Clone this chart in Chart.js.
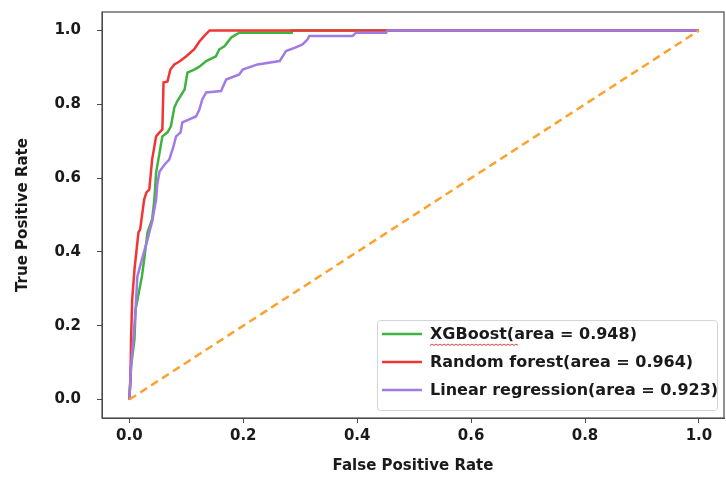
<!DOCTYPE html>
<html lang="en">
  <head>
    <meta charset="UTF-8" />
    <title>ROC curves</title>
    <style>
      body { margin: 0; background: #fff; }
      canvas { display: block; }
    </style>
  </head>
  <body>
    <canvas id="rocChart" width="726" height="486"></canvas>

    <script src="https://cdn.jsdelivr.net/npm/chart.js@4.4.1/dist/chart.umd.min.js"></script>
    <script>
      // values
      var xgbFpr = [0, 0.003, 0.009, 0.011, 0.022, 0.026, 0.032, 0.040, 0.044, 0.047, 0.058, 0.067, 0.073, 0.079, 0.084, 0.097, 0.102, 0.114, 0.123, 0.135, 0.152, 0.158, 0.167, 0.179, 0.193, 0.284, 0.285, 1];
      var xgbTpr = [0, 0.089, 0.163, 0.244, 0.333, 0.379, 0.453, 0.488, 0.542, 0.615, 0.713, 0.724, 0.740, 0.791, 0.808, 0.840, 0.886, 0.894, 0.902, 0.917, 0.930, 0.949, 0.957, 0.981, 0.994, 0.994, 1.0, 1.0];

      var rfFpr = [0, 0.002, 0.003, 0.005, 0.009, 0.016, 0.019, 0.026, 0.030, 0.035, 0.040, 0.047, 0.053, 0.058, 0.060, 0.067, 0.072, 0.079, 0.088, 0.100, 0.114, 0.123, 0.132, 0.141, 1];
      var rfTpr = [0, 0.054, 0.163, 0.271, 0.352, 0.453, 0.461, 0.542, 0.561, 0.569, 0.650, 0.713, 0.724, 0.732, 0.859, 0.862, 0.894, 0.908, 0.916, 0.930, 0.949, 0.970, 0.986, 1.0, 1.0];

      var lrFpr = [0, 0.003, 0.007, 0.011, 0.014, 0.022, 0.032, 0.035, 0.040, 0.047, 0.049, 0.053, 0.062, 0.070, 0.077, 0.082, 0.090, 0.093, 0.105, 0.117, 0.123, 0.128, 0.135, 0.161, 0.170, 0.193, 0.199, 0.225, 0.264, 0.275, 0.290, 0.304, 0.313, 0.316, 0.392, 0.398, 0.451, 0.453, 1];
      var lrTpr = [0, 0.089, 0.163, 0.244, 0.333, 0.379, 0.434, 0.453, 0.482, 0.542, 0.583, 0.618, 0.637, 0.650, 0.683, 0.713, 0.724, 0.751, 0.759, 0.767, 0.786, 0.813, 0.832, 0.836, 0.867, 0.881, 0.894, 0.908, 0.917, 0.944, 0.953, 0.962, 0.976, 0.985, 0.985, 0.994, 0.994, 1.0, 1.0];

      var chanceFpr = [0, 1];
      var chanceTpr = [0, 1];

      var seriesLabels = [
        "XGBoost(area = 0.948)",
        "Random forest(area = 0.964)",
        "Linear regression(area = 0.923)",
      ];
      var seriesColors = ["#3fb33f", "#f03535", "#a07be3"];
      var chanceColor = "#ffa02e";

      var tickValues = [0, 0.2, 0.4, 0.6, 0.8, 1.0];

      var axisFont = { family: "'DejaVu Sans', sans-serif", size: 15, weight: "bold" };

      function toPoints(xs, ys) {
        var pts = [];
        for (let i = 0; i < xs.length; i++) {
          pts.push({ x: xs[i], y: ys[i] });
        }
        return pts;
      }

      function fixTicks(scale) {
        scale.ticks = tickValues.map(function (v) {
          return { value: v };
        });
      }

      // full box round the plot, like matplotlib spines
      var frame = {
        id: "frame",
        afterDraw: function (chart) {
          var a = chart.chartArea;
          var ctx = chart.ctx;
          ctx.save();
          ctx.strokeStyle = "#4a4a4a";
          ctx.lineWidth = 1.2;
          ctx.strokeRect(a.left, a.top, a.right - a.left, a.bottom - a.top);
          ctx.restore();
        },
      };

      // legend box in the lower right corner
      var boxLegend = {
        id: "boxLegend",
        afterDraw: function (chart) {
          var ctx = chart.ctx;
          var x0 = 377, y0 = 320, w = 340, h = 90;
          ctx.save();
          ctx.fillStyle = "rgba(255,255,255,0.85)";
          ctx.strokeStyle = "#d4d4d4";
          ctx.lineWidth = 1;
          ctx.beginPath();
          ctx.roundRect(x0 + 0.5, y0 + 0.5, w, h, 3);
          ctx.fill();
          ctx.stroke();
          ctx.font = "bold 16px 'DejaVu Sans', sans-serif";
          ctx.textBaseline = "middle";
          for (let i = 0; i < seriesLabels.length; i++) {
            var ry = y0 + 14 + i * 28;
            ctx.strokeStyle = seriesColors[i];
            ctx.lineWidth = 2.5;
            ctx.beginPath();
            ctx.moveTo(382, ry);
            ctx.lineTo(422, ry);
            ctx.stroke();
            ctx.fillStyle = "#1a1a1a";
            ctx.fillText(seriesLabels[i], 430, ry + 1);
          }
          // spell-check squiggle under XGBoost
          ctx.strokeStyle = "#e04040";
          ctx.lineWidth = 1;
          ctx.beginPath();
          for (let sx = 430; sx <= 518; sx += 2) {
            var sy = y0 + 24 + ((sx / 2) % 2 === 0 ? 0 : 1.5);
            if (sx === 430) ctx.moveTo(sx, sy);
            else ctx.lineTo(sx, sy);
          }
          ctx.stroke();
          ctx.restore();
        },
      };

      var ctx = document.getElementById("rocChart").getContext("2d");
      var rocChart = new Chart(ctx, {
        type: "line",
        data: {
          datasets: [
            {
              label: seriesLabels[0],
              data: toPoints(xgbFpr, xgbTpr),
              borderColor: seriesColors[0],
              order: 3,
            },
            {
              label: seriesLabels[1],
              data: toPoints(rfFpr, rfTpr),
              borderColor: seriesColors[1],
              order: 2,
            },
            {
              label: seriesLabels[2],
              data: toPoints(lrFpr, lrTpr),
              borderColor: seriesColors[2],
              order: 1,
            },
            {
              label: "chance",
              data: toPoints(chanceFpr, chanceTpr),
              borderColor: chanceColor,
              borderDash: [8, 5],
              order: 0,
            },
          ],
        },
        options: {
          responsive: false,
          animation: false,
          layout: { padding: { top: 12, right: 2, left: 0, bottom: 0 } },
          elements: {
            point: { radius: 0 },
            line: { borderWidth: 2.5, tension: 0, fill: false },
          },
          plugins: {
            legend: { display: false },
            tooltip: { enabled: false },
          },
          scales: {
            x: {
              type: "linear",
              min: -0.048,
              max: 1.044,
              afterBuildTicks: fixTicks,
              afterFit: function (scale) {
                scale.height = 68;
                scale.paddingLeft = 0;
                scale.paddingRight = 0;
              },
              grid: { drawOnChartArea: false, drawTicks: true, tickLength: 5, color: "#4a4a4a" },
              border: { color: "#4a4a4a" },
              ticks: {
                color: "#1a1a1a",
                font: axisFont,
                padding: 4,
                maxRotation: 0,
                callback: function (v) {
                  return v.toFixed(1);
                },
              },
              title: {
                display: true,
                text: "False Positive Rate",
                color: "#1a1a1a",
                font: axisFont,
                padding: { bottom: 11 },
              },
            },
            y: {
              type: "linear",
              min: -0.05,
              max: 1.05,
              afterBuildTicks: fixTicks,
              afterFit: function (scale) {
                scale.width = 102;
                scale.paddingTop = 0;
                scale.paddingBottom = 0;
              },
              grid: { drawOnChartArea: false, drawTicks: true, tickLength: 5, color: "#4a4a4a" },
              border: { color: "#4a4a4a" },
              ticks: {
                color: "#1a1a1a",
                font: axisFont,
                padding: 16,
                callback: function (v) {
                  return v.toFixed(1);
                },
              },
              title: {
                display: true,
                text: "True Positive Rate",
                color: "#1a1a1a",
                font: axisFont,
                padding: { top: 14 },
              },
            },
          },
        },
        plugins: [frame, boxLegend],
      });
    </script>
  </body>
</html>
